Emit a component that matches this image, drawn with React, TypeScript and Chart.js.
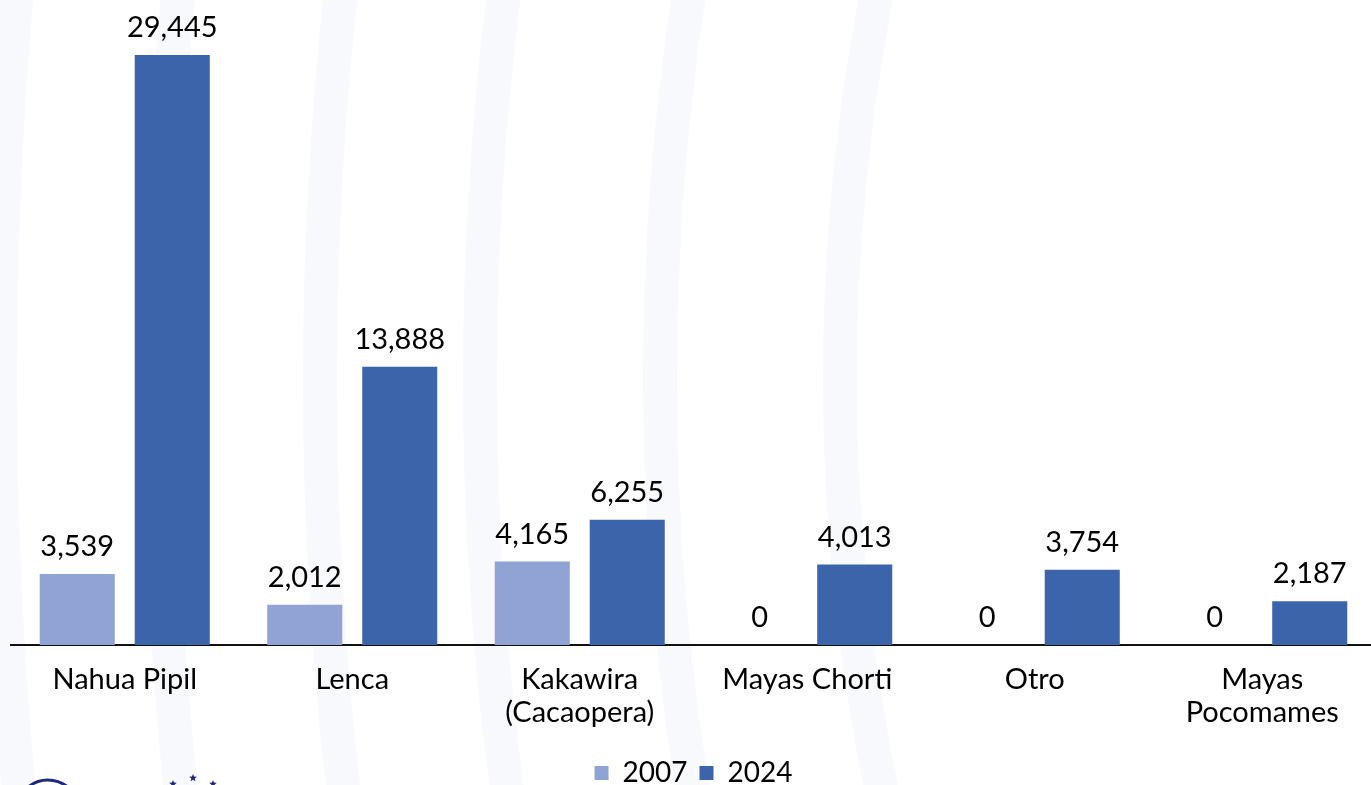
import React, { useEffect, useRef } from "react";
import { Chart, registerables } from "chart.js";

Chart.register(...registerables);

const categories: (string | string[])[] = [
  "Nahua Pipil",
  "Lenca",
  ["Kakawira", "(Cacaopera)"],
  "Mayas Chorti",
  "Otro",
  ["Mayas", "Pocomames"],
];
const series2007: number[] = [3539, 2012, 4165, 0, 0, 0];
const series2024: number[] = [29445, 13888, 6255, 4013, 3754, 2187];
const seriesLabels: string[] = ["2007", "2024"];
const colors: string[] = ["#8FA4D4", "#3C64AB"];

const FONT = "Lato, 'Open Sans', sans-serif";

const bgPlugin = {
  id: "bgDecor",
  beforeDraw(chart: any) {
    const { ctx, width, height } = chart;
    ctx.save();
    ctx.fillStyle = "#ffffff";
    ctx.fillRect(0, 0, width, height);
    ctx.strokeStyle = "#f8f9fd";
    ctx.lineWidth = 34;
    const radii = [1560, 1400, 1240, 1080, 900, 720];
    radii.forEach((r) => {
      ctx.beginPath();
      ctx.ellipse(1560, 380, r, r * 1.7, 0, 0, Math.PI * 2);
      ctx.stroke();
    });
    ctx.restore();
  },
  afterDraw(chart: any) {
    const { ctx } = chart;
    ctx.save();
    // partial logo at the bottom-left corner
    ctx.strokeStyle = "#1f2a7a";
    ctx.lineWidth = 3;
    ctx.beginPath();
    ctx.arc(48, 812, 32, Math.PI * 1.05, Math.PI * 1.95);
    ctx.stroke();
    ctx.fillStyle = "#1f2a7a";
    const star = (cx: number, cy: number, r: number) => {
      ctx.beginPath();
      for (let i = 0; i < 10; i++) {
        const a = -Math.PI / 2 + (i * Math.PI) / 5;
        const rr = i % 2 === 0 ? r : r * 0.45;
        ctx.lineTo(cx + rr * Math.cos(a), cy + rr * Math.sin(a));
      }
      ctx.closePath();
      ctx.fill();
    };
    star(173, 784, 4);
    star(193, 778, 4);
    star(213, 784, 4);
    ctx.restore();
  },
};

const labelPlugin = {
  id: "valueLabels",
  afterDatasetsDraw(chart: any) {
    const { ctx } = chart;
    ctx.save();
    ctx.fillStyle = "#000000";
    ctx.font = `29px ${FONT}`;
    ctx.textAlign = "center";
    ctx.textBaseline = "alphabetic";
    chart.data.datasets.forEach((ds: any, di: number) => {
      const meta = chart.getDatasetMeta(di);
      meta.data.forEach((bar: any, i: number) => {
        const v = ds.data[i] as number;
        ctx.fillText(v.toLocaleString("en-US"), bar.x, bar.y - 18);
      });
    });
    ctx.restore();
  },
};

export default function App() {
  const ref = useRef<HTMLCanvasElement | null>(null);
  useEffect(() => {
    if (!ref.current) return;
    const chart = new Chart(ref.current, {
      type: "bar",
      data: {
        labels: categories,
        datasets: [
          {
            label: seriesLabels[0],
            data: series2007,
            backgroundColor: colors[0],
            barPercentage: 0.79,
            categoryPercentage: 0.835,
          },
          {
            label: seriesLabels[1],
            data: series2024,
            backgroundColor: colors[1],
            barPercentage: 0.79,
            categoryPercentage: 0.835,
          },
        ],
      },
      options: {
        animation: false,
        responsive: false,
        maintainAspectRatio: false,
        layout: { padding: { left: 11, right: 4, top: 0, bottom: 0 } },
        scales: {
          x: {
            grid: { display: false, drawTicks: false },
            border: { display: true, color: "#111111", width: 2 },
            ticks: {
              color: "#000000",
              font: { family: FONT, size: 29, lineHeight: 1.138 },
              padding: 18,
              maxRotation: 0,
              autoSkip: false,
            },
          },
          y: {
            display: false,
            min: 0,
            max: 32190,
          },
        },
        plugins: {
          legend: {
            position: "bottom",
            labels: {
              color: "#000000",
              font: { family: FONT, size: 28 },
              boxWidth: 14,
              boxHeight: 14,
              padding: 12,
            },
          },
          tooltip: { enabled: false },
        },
      },
      plugins: [bgPlugin, labelPlugin],
    });
    return () => chart.destroy();
  }, []);
  return (
    <div style={{ position: "fixed", left: 0, top: 0, width: 1380, height: 785, overflow: "hidden" }}>
      <canvas ref={ref} width={1380} height={797} style={{ width: 1380, height: 797, display: "block" }} />
    </div>
  );
}
